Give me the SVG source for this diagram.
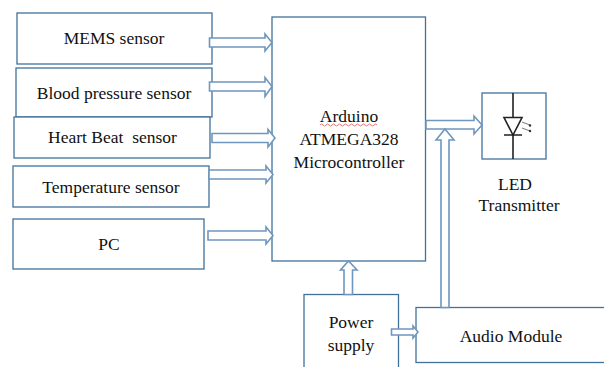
<svg xmlns="http://www.w3.org/2000/svg" width="604" height="367" viewBox="0 0 604 367">
<defs><style>
.box{fill:#fff;stroke:#41719c;stroke-width:1.3}
.arrow{fill:#fff;stroke:#6f97bd;stroke-width:1.6}
text{font-family:"Liberation Serif","Times New Roman",serif;font-size:17.500px;fill:#111;text-anchor:middle;white-space:pre}
</style></defs>
<rect width="604" height="367" fill="#fff"/>
<g id="node-mems"><rect class="box" x="17" y="13" width="195" height="51"/><text x="114" y="44">MEMS sensor</text></g>
<g id="node-bp"><rect class="box" x="16" y="68" width="196" height="49"/><text x="114" y="99">Blood pressure sensor</text></g>
<g id="node-heart"><rect class="box" x="14" y="117" width="196" height="41"/><text x="112.500" y="143" xml:space="preserve">Heart Beat  sensor</text></g>
<g id="node-temp"><rect class="box" x="13" y="166" width="196" height="41"/><text x="111" y="193">Temperature sensor</text></g>
<g id="node-pc"><rect class="box" x="13" y="219" width="191" height="50"/><text x="109" y="250">PC</text></g>
<g id="node-mcu"><rect class="box" x="272" y="17" width="153.500" height="244"/>
<text x="349" y="122">Arduino</text><text x="349" y="145">ATMEGA328</text><text x="349" y="168">Microcontroller</text>
<path d="M320 125q1.500-2 3 0t3 0t3 0t3 0t3 0t3 0t3 0t3 0t3 0t3 0t3 0t3 0t3 0t3 0t3 0t3 0t3 0t3 0t3 0" fill="none" stroke="#d9534f" stroke-width="0.800"/></g>
<g id="node-led"><rect class="box" x="482" y="93" width="64" height="66"/>
<path d="M513 93V118M513 135V159M504 135H522" fill="none" stroke="#222" stroke-width="1.600"/>
<path d="M504 117.500H522L513 135Z" fill="#fff" stroke="#222" stroke-width="1.600"/>
<path d="M522 122l8 3M522 128l8 3" stroke="#888" stroke-width="1.200"/><circle cx="530" cy="125.500" r="1.200" fill="#333"/><circle cx="530" cy="131" r="1.200" fill="#333"/>
<text x="515" y="190">LED</text><text x="519" y="211">Transmitter</text></g>
<g id="node-power"><rect class="box" x="304" y="294.500" width="94.500" height="90"/><text x="351" y="328">Power</text><text x="351" y="351">supply</text></g>
<g id="node-audio"><rect class="box" x="416" y="307.500" width="190" height="55"/><text x="511" y="342">Audio Module</text></g>
<g id="connectors">
<path class="arrow" d="M209.500 38H265V34L272 42.500L265 51V47H209.500Z"/>
<path class="arrow" d="M209.500 82H265V77.500L272 86.500L265 96.500V91H209.500Z"/>
<path class="arrow" d="M212 133.500H268V129.500L275 138L268 147V142.500H212Z"/>
<path class="arrow" d="M209 170H266V166L273 174.500L266 183V179H209Z"/>
<path class="arrow" d="M208 231H266V227L273 235.500L266 244V240H208Z"/>
<path class="arrow" d="M426 120.500H474V116L482 125L474 134V129H426Z"/>
<path class="arrow" d="M441 307.500V140H436L445 129L454 140H449V307.500Z"/>
<path class="arrow" d="M344 294.500V270H340.500L348.500 261L357 270H352.500V294.500Z"/>
<path class="arrow" d="M391.500 329H413V326L418 332L413 338V335H391.500Z"/>
</g>
</svg>
